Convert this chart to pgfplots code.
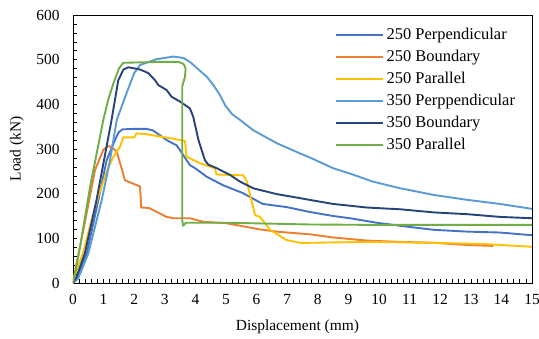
\documentclass[border=0pt]{standalone}
\usepackage{fontspec}
\setmainfont{Liberation Serif}
\usepackage{pgfplots}
\pgfplotsset{compat=1.18}
\definecolor{cA}{HTML}{4472C4}
\definecolor{cB}{HTML}{ED7D31}
\definecolor{cC}{HTML}{FFC000}
\definecolor{cD}{HTML}{5B9BD5}
\definecolor{cE}{HTML}{264478}
\definecolor{cF}{HTML}{70AD47}
\begin{document}
\begin{tikzpicture}
\useasboundingbox (-73bp,-56bp) rectangle (466bp,283bp);
\begin{axis}[at={(0,0)}, anchor=south west, scale only axis,
  width=459bp, height=268bp,
  xmin=0, xmax=15, ymin=0, ymax=600,
  xtick={0,1,...,15}, ytick={0,100,...,600},
  minor x tick num=4, minor y tick num=4,
  tick align=inside, tick pos=left,
  major tick length=4bp, minor tick length=4bp,
  axis line style={line width=0.9bp},
  every tick/.style={black, line width=0.6bp},
  /pgf/number format/assume math mode=true,
  tick label style={font=\fontsize{15.5}{18}\selectfont},
  xticklabel style={yshift=-8bp},
  yticklabel style={xshift=-10bp},
  xlabel={Displacement (mm)}, ylabel={Load (kN)},
  label style={font=\fontsize{15.5}{18}\selectfont},
  xlabel style={at={(axis description cs:0.489,-0.164)}, anchor=center},
  ylabel style={at={(axis description cs:-0.122,0.5)}, anchor=center},
  legend style={draw=none, fill=none, inner sep=0pt,
    at={(axis description cs:0.571,0.957)}, anchor=north west,
    font=\fontsize{16.5}{19}\selectfont, row sep=6.1bp,
    nodes={inner xsep=2.5bp, inner ysep=1.5bp}},
  legend cell align=left,
  legend image code/.code={\draw[#1, line width=1.9bp] (0bp,0bp) -- (47bp,0bp);},
  every axis plot/.append style={line width=1.9bp, line join=round, no markers},
]
\addplot[cA] coordinates {(0,0) (0.14,14) (0.45,66) (0.83,186) (1.1,275) (1.37,320) (1.5,338) (1.62,344) (2.0,345) (2.4,345) (2.6,342) (2.75,335) (2.84,331) (3.06,320) (3.39,308) (3.5,297) (3.82,264) (3.99,257) (4.37,238) (4.9,219) (5.56,201) (6.2,177) (6.98,170) (7.74,159) (8.5,150) (9.05,145) (9.92,135) (10.7,128) (11.8,119) (12.9,115) (13.95,113) (15,107)};
\addlegendentry{250 Perpendicular}
\addplot[cB] coordinates {(0,0) (0.05,20) (0.34,119) (0.72,253) (0.99,298) (1.15,307) (1.3,302) (1.43,294) (1.54,268) (1.7,230) (2.19,216) (2.23,169) (2.48,168) (3.06,148) (3.28,145) (3.82,145) (4.26,137) (5.0,134) (6.11,120) (6.65,115) (7.74,109) (8.5,102) (9.6,95) (10.7,92) (11.8,90) (12.9,85) (13.74,83)};
\addlegendentry{250 Boundary}
\addplot[cC] coordinates {(0,0) (0.07,18) (0.34,70) (0.6,140) (0.83,195) (1.1,249) (1.32,283) (1.54,305) (1.64,326) (2.0,326) (2.08,335) (2.41,333) (2.84,328) (3.2,324) (3.66,318) (3.71,283) (4.15,268) (4.64,257) (4.69,243) (5.57,241) (5.68,227) (5.95,152) (6.11,148) (6.44,119) (6.98,96) (7.42,90) (7.74,90) (9.6,92) (11.8,90) (13.5,87) (15,81)};
\addlegendentry{250 Parallel}
\addplot[cD] coordinates {(0,0) (0.17,10) (0.5,66) (0.94,186) (1.21,275) (1.43,365) (1.75,425) (2.0,470) (2.19,488) (2.73,501) (3.28,507) (3.6,504) (3.82,495) (4.15,475) (4.37,462) (4.59,443) (4.8,421) (4.97,398) (5.2,378) (5.46,365) (5.89,342) (6.66,313) (7.42,290) (7.74,281) (8.5,257) (9.05,245) (9.8,227) (10.7,212) (11.8,197) (12.9,186) (13.95,177) (15,166)};
\addlegendentry{350 Perppendicular}
\addplot[cE] coordinates {(0,0) (0.12,14) (0.39,67) (0.77,186) (1.26,365) (1.48,454) (1.65,478) (1.81,483) (2.19,478) (2.46,470) (2.68,454) (2.79,443) (3.06,432) (3.22,417) (3.5,406) (3.82,391) (3.93,372) (4.1,320) (4.31,275) (4.42,265) (4.7,257) (5.13,242) (5.46,227) (5.89,212) (6.66,199) (7.42,190) (7.74,186) (8.5,177) (9.6,169) (10.7,165) (11.8,158) (12.9,154) (13.95,148) (15,145)};
\addlegendentry{350 Boundary}
\addplot[cF] coordinates {(0,0) (0.065,21) (0.23,81) (0.56,216) (0.99,365) (1.15,410) (1.32,447) (1.5,480) (1.64,493) (2.84,495) (3.45,495) (3.62,490) (3.68,480) (3.66,462) (3.57,440) (3.57,140) (3.6,128) (3.69,135) (5.0,135) (7.74,131) (10,130) (15,130)};
\addlegendentry{350 Parallel}
\end{axis}
\end{tikzpicture}
\end{document}
